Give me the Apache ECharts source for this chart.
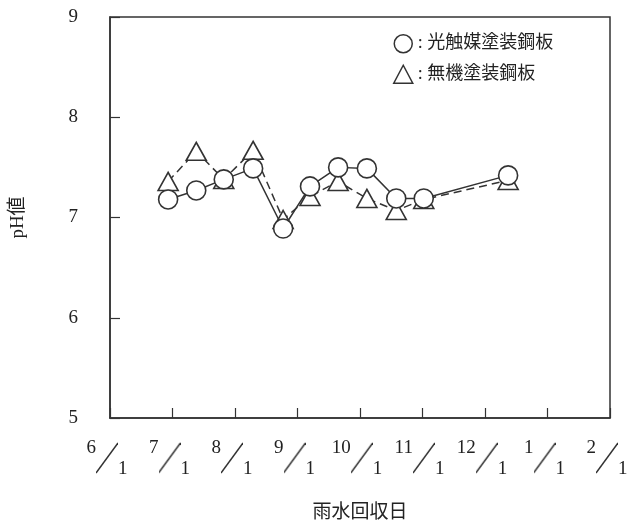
<!DOCTYPE html>
<html>
<head>
<meta charset="utf-8">
<script src="https://cdn.jsdelivr.net/npm/echarts@6/dist/echarts.min.js"></script>
<style>
  html, body { margin: 0; padding: 0; background: #fff; }
  #chart-container { width: 627px; height: 526px; }
</style>
</head>
<body>
<div id="chart-container"></div>
<script>
// month ticks 6/1 .. 2/1 (x = months since 6/1)
const monthLabels = ['6', '7', '8', '9', '10', '11', '12', '1', '2'];
// rain collection dates, in months since 6/1
const sampleMonths = [0.93, 1.38, 1.82, 2.29, 2.77, 3.20, 3.65, 4.11, 4.58, 5.02, 6.37];
// pH values
const phPhotocat = [7.18, 7.27, 7.38, 7.49, 6.89, 7.31, 7.50, 7.49, 7.19, 7.19, 7.42];
const phInorganic = [7.36, 7.66, 7.38, 7.67, 6.98, 7.21, 7.36, 7.19, 7.07, 7.18, 7.37];
const seriesNames = ['光触媒塗装鋼板', '無機塗装鋼板'];

const ink = '#333';
const font = "'Liberation Serif', 'Noto Sans CJK JP', serif";

// diagonal stroke used as the "/" of the date labels
function slashImage() {
    const c = document.createElement('canvas');
    c.width = 22;
    c.height = 40;
    const ctx = c.getContext('2d');
    ctx.strokeStyle = '#333';
    ctx.lineWidth = 1.5;
    ctx.beginPath();
    ctx.moveTo(0, 34);
    ctx.lineTo(22, 4);
    ctx.stroke();
    return c;
}
const slash = slashImage();

function pairs(xs, ys) {
    return xs.map(function (x, i) { return [x, ys[i]]; });
}

const chart = echarts.init(document.getElementById('chart-container'), null, { renderer: 'canvas' });

chart.setOption({
    animation: false,
    backgroundColor: '#fff',
    grid: {
        left: 110, right: 17, top: 17, bottom: 108,
        outerBoundsMode: 'none',
        containLabel: false,
        show: true, borderColor: ink, borderWidth: 1.5
    },
    legend: {
        orient: 'vertical',
        left: 388,
        top: 29,
        itemWidth: 19,
        itemHeight: 18,
        itemGap: 11,
        textStyle: { fontFamily: font, fontSize: 18, color: '#222' },
        formatter: function (name) { return ': ' + name; },
        data: [
            { name: seriesNames[0], icon: 'circle', itemStyle: { color: '#fff', borderColor: ink, borderWidth: 1.5 } },
            { name: seriesNames[1], icon: 'triangle', itemStyle: { color: '#fff', borderColor: ink, borderWidth: 1.5 } }
        ]
    },
    xAxis: {
        type: 'value',
        min: 0,
        max: 8,
        interval: 1,
        name: '雨水回収日',
        nameLocation: 'middle',
        nameGap: 86,
        nameTextStyle: { fontFamily: font, fontSize: 19, color: '#222' },
        axisLine: { lineStyle: { color: ink, width: 1.5 } },
        axisTick: { inside: true, length: 10, lineStyle: { color: ink, width: 1.2 } },
        splitLine: { show: false },
        axisLabel: {
            margin: 21,
            padding: [0, 6, 0, 0],
            formatter: function (v) {
                return '{t|' + monthLabels[Math.round(v)] + '}{s| }{b|1}';
            },
            rich: {
                t: { fontFamily: font, fontSize: 19, color: '#222', verticalAlign: 'top' },
                s: { width: 22, height: 40, backgroundColor: { image: slash } },
                b: { fontFamily: font, fontSize: 19, color: '#222', verticalAlign: 'bottom' }
            }
        }
    },
    yAxis: {
        type: 'value',
        min: 5,
        max: 9,
        interval: 1,
        name: 'pH値',
        nameLocation: 'middle',
        nameRotate: 90,
        nameGap: 82,
        nameTextStyle: { fontFamily: font, fontSize: 19, color: '#222' },
        axisLine: { lineStyle: { color: ink, width: 1.5 } },
        axisTick: { inside: true, length: 10, lineStyle: { color: ink, width: 1.2 } },
        splitLine: { show: false },
        axisLabel: { margin: 32, fontFamily: font, fontSize: 19, color: '#222' }
    },
    series: [
        {
            name: seriesNames[1],
            type: 'line',
            z: 2,
            data: pairs(sampleMonths, phInorganic),
            symbol: 'triangle',
            symbolSize: [20, 18],
            lineStyle: { color: ink, width: 1.5, type: [8, 5] },
            itemStyle: { color: '#fff', borderColor: ink, borderWidth: 1.6 }
        },
        {
            name: seriesNames[0],
            type: 'line',
            z: 3,
            data: pairs(sampleMonths, phPhotocat),
            symbol: 'circle',
            symbolSize: 19,
            lineStyle: { color: ink, width: 1.5 },
            itemStyle: { color: '#fff', borderColor: ink, borderWidth: 1.6 }
        }
    ]
});
</script>
</body>
</html>
